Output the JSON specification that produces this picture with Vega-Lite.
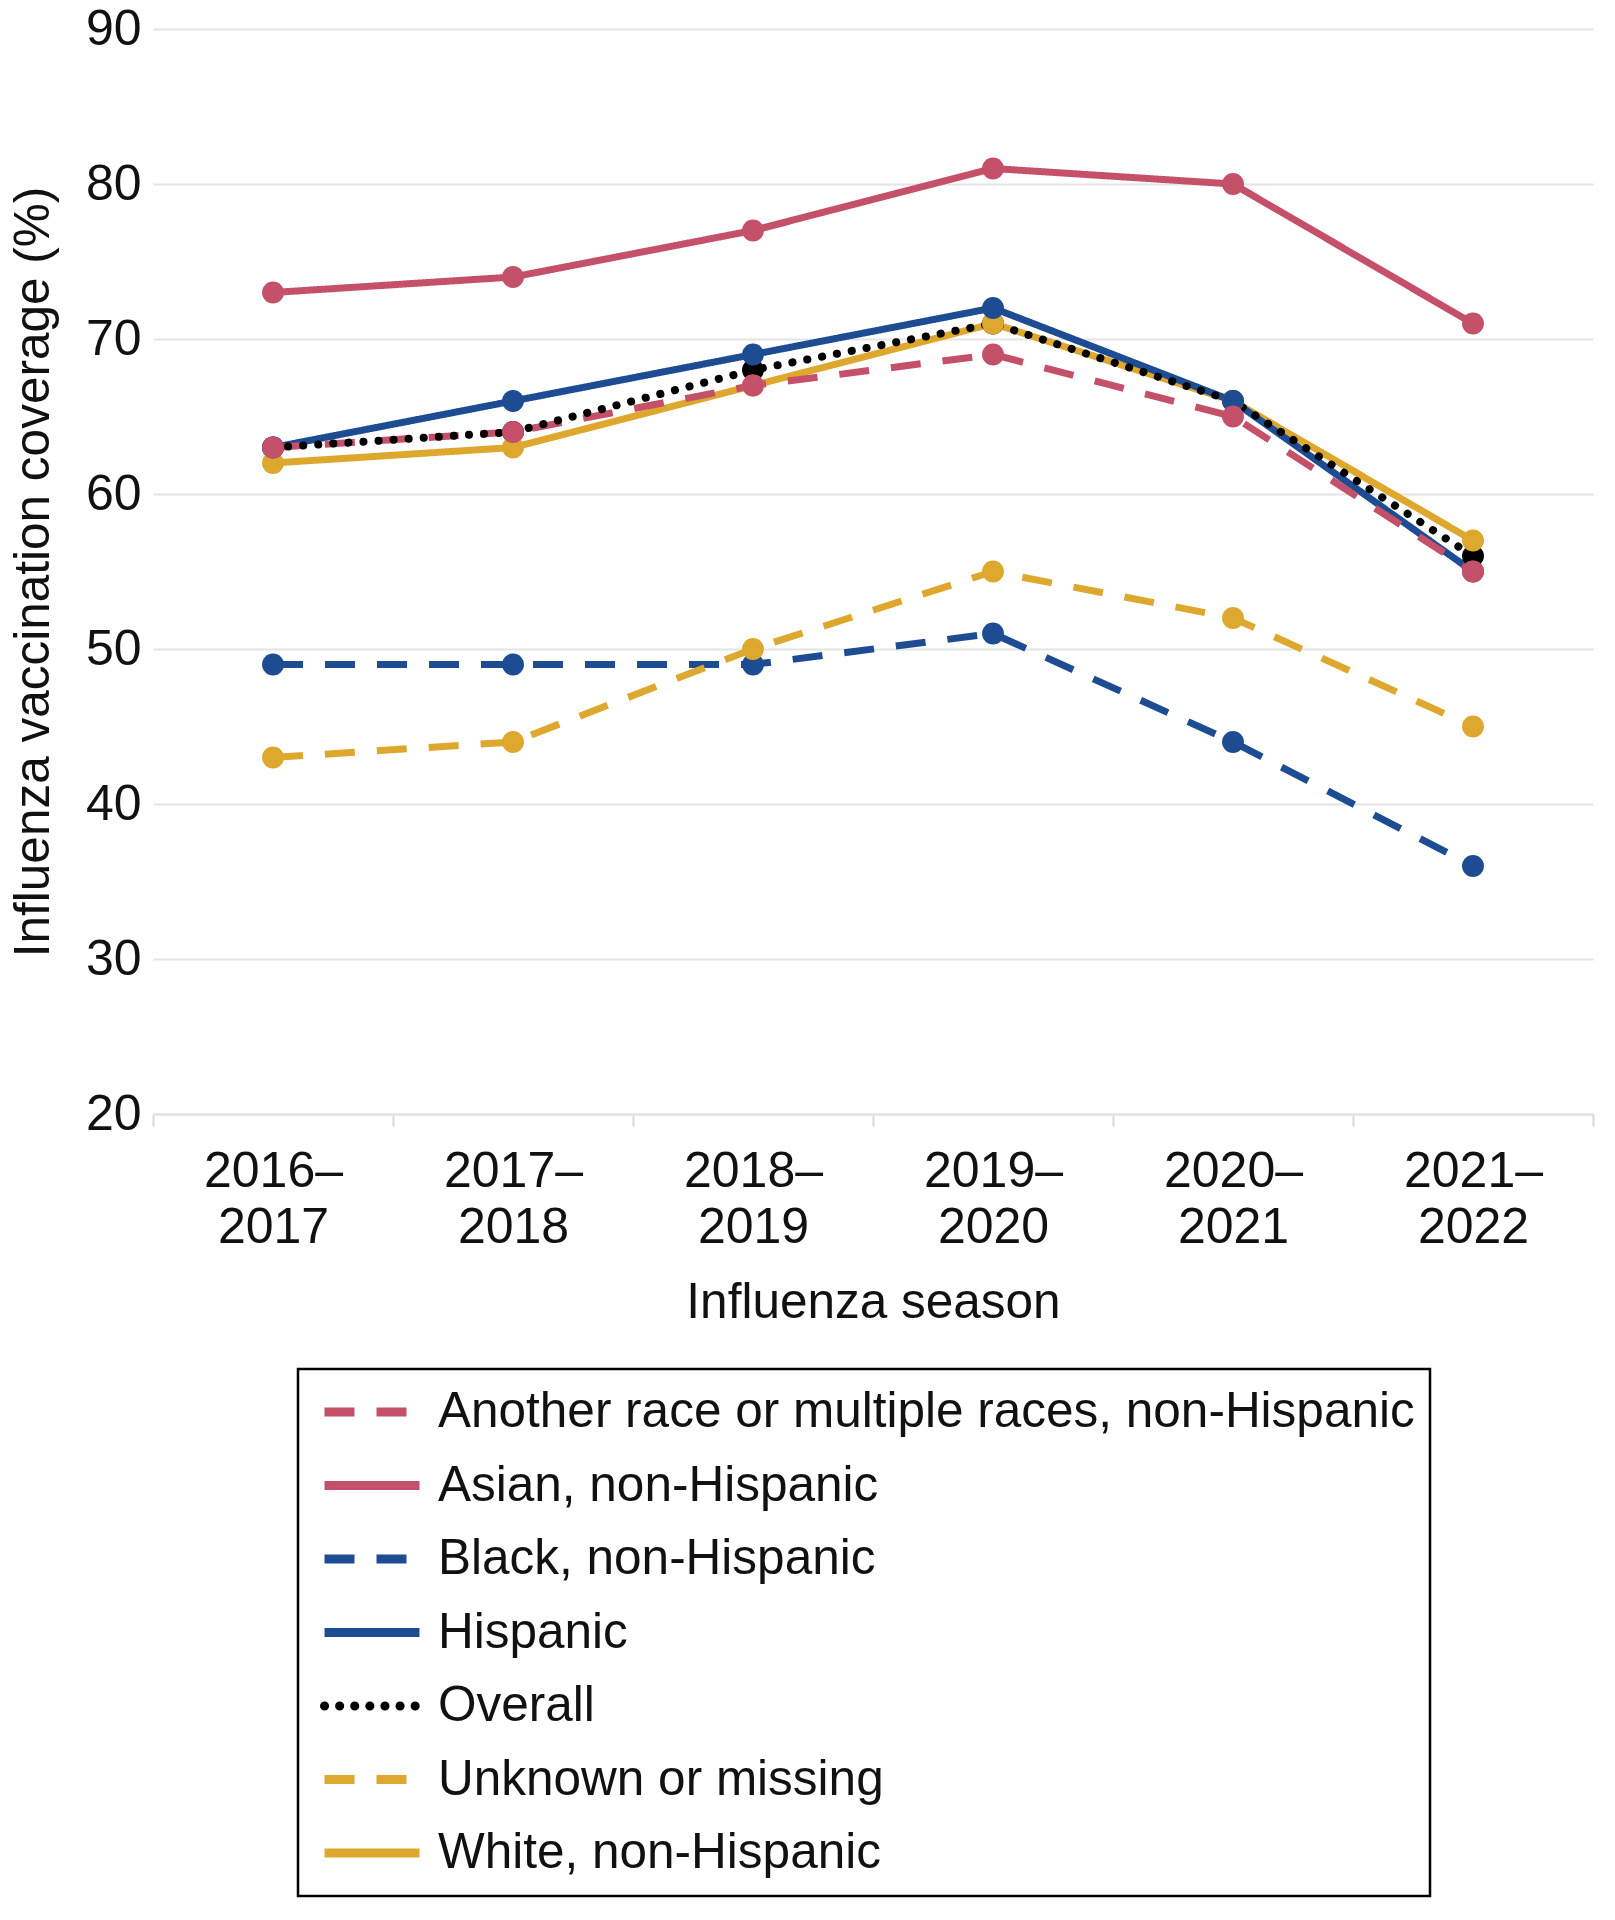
{
  "$schema": "https://vega.github.io/schema/vega-lite/v6.json",
  "autosize": {"type": "none"},
  "width": 1440,
  "height": 1085,
  "padding": {"left": 153, "top": 29, "right": 22, "bottom": 806},
  "background": "white",
  "config": {
    "view": {"stroke": null},
    "font": "Liberation Sans",
    "axis": {"labelColor": "#111111", "titleColor": "#111111", "titleFontWeight": "normal", "labelFont": "Liberation Sans", "titleFont": "Liberation Sans"},
    "legend": {"labelColor": "#111111", "labelFont": "Liberation Sans"}
  },
  "data": {
    "values": [
      {"season": "2016–2017", "group": "Asian, non-Hispanic", "value": 73},
      {"season": "2017–2018", "group": "Asian, non-Hispanic", "value": 74},
      {"season": "2018–2019", "group": "Asian, non-Hispanic", "value": 77},
      {"season": "2019–2020", "group": "Asian, non-Hispanic", "value": 81},
      {"season": "2020–2021", "group": "Asian, non-Hispanic", "value": 80},
      {"season": "2021–2022", "group": "Asian, non-Hispanic", "value": 71},
      {"season": "2016–2017", "group": "Black, non-Hispanic", "value": 49},
      {"season": "2017–2018", "group": "Black, non-Hispanic", "value": 49},
      {"season": "2018–2019", "group": "Black, non-Hispanic", "value": 49},
      {"season": "2019–2020", "group": "Black, non-Hispanic", "value": 51},
      {"season": "2020–2021", "group": "Black, non-Hispanic", "value": 44},
      {"season": "2021–2022", "group": "Black, non-Hispanic", "value": 36},
      {"season": "2016–2017", "group": "Unknown or missing", "value": 43},
      {"season": "2017–2018", "group": "Unknown or missing", "value": 44},
      {"season": "2018–2019", "group": "Unknown or missing", "value": 50},
      {"season": "2019–2020", "group": "Unknown or missing", "value": 55},
      {"season": "2020–2021", "group": "Unknown or missing", "value": 52},
      {"season": "2021–2022", "group": "Unknown or missing", "value": 45},
      {"season": "2016–2017", "group": "Overall", "value": 63},
      {"season": "2017–2018", "group": "Overall", "value": 64},
      {"season": "2018–2019", "group": "Overall", "value": 68},
      {"season": "2019–2020", "group": "Overall", "value": 71},
      {"season": "2020–2021", "group": "Overall", "value": 66},
      {"season": "2021–2022", "group": "Overall", "value": 56},
      {"season": "2016–2017", "group": "White, non-Hispanic", "value": 62},
      {"season": "2017–2018", "group": "White, non-Hispanic", "value": 63},
      {"season": "2018–2019", "group": "White, non-Hispanic", "value": 67},
      {"season": "2019–2020", "group": "White, non-Hispanic", "value": 71},
      {"season": "2020–2021", "group": "White, non-Hispanic", "value": 66},
      {"season": "2021–2022", "group": "White, non-Hispanic", "value": 57},
      {"season": "2016–2017", "group": "Hispanic", "value": 63},
      {"season": "2017–2018", "group": "Hispanic", "value": 66},
      {"season": "2018–2019", "group": "Hispanic", "value": 69},
      {"season": "2019–2020", "group": "Hispanic", "value": 72},
      {"season": "2020–2021", "group": "Hispanic", "value": 66},
      {"season": "2021–2022", "group": "Hispanic", "value": 55},
      {"season": "2016–2017", "group": "Another race or multiple races, non-Hispanic", "value": 63},
      {"season": "2017–2018", "group": "Another race or multiple races, non-Hispanic", "value": 64},
      {"season": "2018–2019", "group": "Another race or multiple races, non-Hispanic", "value": 67},
      {"season": "2019–2020", "group": "Another race or multiple races, non-Hispanic", "value": 69},
      {"season": "2020–2021", "group": "Another race or multiple races, non-Hispanic", "value": 65},
      {"season": "2021–2022", "group": "Another race or multiple races, non-Hispanic", "value": 55}
    ]
  },
  "encoding": {
    "x": {
      "field": "season", "type": "nominal",
      "sort": ["2016–2017", "2017–2018", "2018–2019", "2019–2020", "2020–2021", "2021–2022"],
      "scale": {"type": "band", "paddingInner": 0, "paddingOuter": 0},
      "axis": {
        "title": "Influenza season", "titleFontSize": 49.5, "titlePadding": 26,
        "labelAngle": 0, "labelFontSize": 50, "labelLineHeight": 56, "labelPadding": 20,
        "labelExpr": "[slice(datum.label, 0, 5), slice(datum.label, 5)]",
        "tickBand": "extent", "tickSize": 12, "tickColor": "#d9d9d9", "tickWidth": 2,
        "domainColor": "#e2e2e2", "domainWidth": 2, "grid": false
      }
    },
    "y": {
      "field": "value", "type": "quantitative",
      "scale": {"domain": [20, 90], "nice": false, "zero": false},
      "axis": {
        "title": "Influenza vaccination coverage (%)", "titleFontSize": 49.5, "titlePadding": 27,
        "values": [20, 30, 40, 50, 60, 70, 80, 90],
        "labelFontSize": 50, "labelPadding": 12, "ticks": false, "domain": false,
        "grid": true, "gridColor": "#e4e4e4", "gridWidth": 2
      }
    }
  },
  "layer": [
    {
      "transform": [{"filter": "datum.group !== 'Overall'"}],
      "mark": {"type": "line", "strokeWidth": 7, "strokeCap": "butt"},
      "encoding": {
        "color": {
          "field": "group", "type": "nominal",
          "scale": {
            "domain": ["Another race or multiple races, non-Hispanic", "Asian, non-Hispanic", "Black, non-Hispanic", "Hispanic", "Overall", "Unknown or missing", "White, non-Hispanic"],
            "range": ["#C4506A", "#C4506A", "#1D4C92", "#1D4C92", "#000000", "#DEA82E", "#DEA82E"]
          },
          "legend": {
            "title": null, "orient": "none", "legendX": 145, "legendY": 1340,
            "labelFontSize": 49.5, "labelLimit": 2000, "labelOffset": 14,
            "symbolType": "stroke", "symbolSize": 9025, "symbolStrokeWidth": 9, "symbolOffset": 7,
            "clipHeight": 56, "rowPadding": 17.5, "padding": 15, "strokeColor": "#000000",
            "encode": {
              "symbols": {"update": {"strokeCap": {"signal": "datum.value === 'Overall' ? 'round' : 'butt'"}}},
              "legend": {"update": {"strokeWidth": {"value": 2.5}}}
            }
          }
        },
        "strokeDash": {
          "field": "group", "type": "nominal",
          "scale": {
            "domain": ["Another race or multiple races, non-Hispanic", "Asian, non-Hispanic", "Black, non-Hispanic", "Hispanic", "Overall", "Unknown or missing", "White, non-Hispanic"],
            "range": [[30, 22], [1, 0], [30, 22], [1, 0], [0.1, 15], [30, 22], [1, 0]]
          },
          "legend": {
            "title": null, "orient": "none", "legendX": 145, "legendY": 1340,
            "labelFontSize": 49.5, "labelLimit": 2000, "labelOffset": 14,
            "symbolType": "stroke", "symbolSize": 9025, "symbolStrokeWidth": 9, "symbolOffset": 7,
            "clipHeight": 56, "rowPadding": 17.5, "padding": 15, "strokeColor": "#000000",
            "encode": {
              "symbols": {"update": {"strokeCap": {"signal": "datum.value === 'Overall' ? 'round' : 'butt'"}}},
              "legend": {"update": {"strokeWidth": {"value": 2.5}}}
            }
          }
        }
      }
    },
    {
      "transform": [{"filter": "datum.group === 'Overall'"}],
      "mark": {"type": "line", "strokeWidth": 8, "strokeCap": "round"},
      "encoding": {
        "color": {"field": "group", "type": "nominal"},
        "strokeDash": {"field": "group", "type": "nominal"}
      }
    },
    {
      "mark": {"type": "circle", "size": 480, "opacity": 1},
      "encoding": {
        "color": {"field": "group", "type": "nominal", "legend": null}
      }
    }
  ]
}
